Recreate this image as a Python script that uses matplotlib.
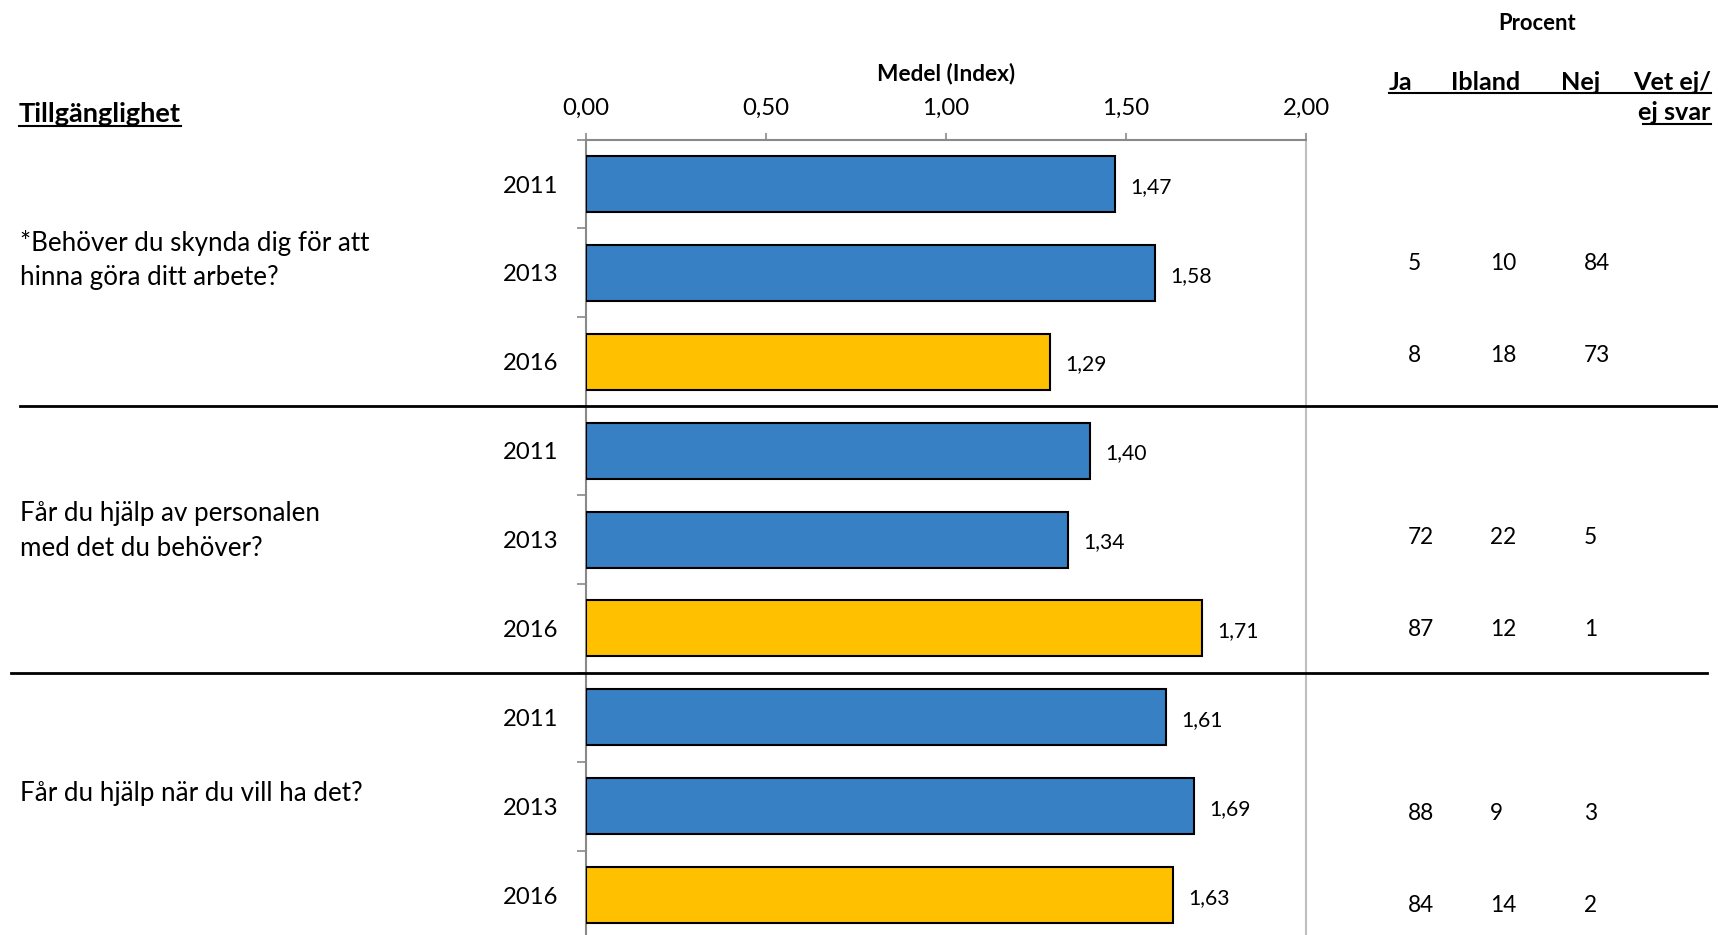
import matplotlib
import matplotlib.pyplot as plt
from matplotlib.lines import Line2D
from matplotlib.ticker import FixedLocator, FuncFormatter

matplotlib.use("Agg")

# --- data ---
questions = [
    "*Behöver du skynda dig för att\nhinna göra ditt arbete?",
    "Får du hjälp av personalen\nmed det du behöver?",
    "Får du hjälp när du vill ha det?",
]
years = ["2011", "2013", "2016"]
medel = [
    [1.47, 1.58, 1.29],
    [1.40, 1.34, 1.71],
    [1.61, 1.69, 1.63],
]
# procent table, rows = (2013, 2016) for each question
ja = [5, 8, 72, 87, 88, 84]
ibland = [10, 18, 22, 12, 9, 14]
nej = [84, 73, 5, 1, 3, 2]

BLUE = "#3780C3"
GOLD = "#FFC000"
GRAY = "#898989"

plt.rcParams["font.family"] = ["Lato", "DejaVu Sans"]

W, H = 1718, 935


def fx(px):
    return px / W


def fy(py):
    return 1 - py / H


def hline(x0, x1, y, lw):
    fig.add_artist(Line2D([fx(x0), fx(x1)], [fy(y), fy(y)], color="black",
                          linewidth=lw, transform=fig.transFigure))


fig = plt.figure(figsize=(W / 100, H / 100), dpi=100)

# axes box in pixels: x 586..1306, y 139.6..939.5
top, bottom = 139.6, 939.5
ax = fig.add_axes([fx(586), fy(bottom), (1306 - 586) / W, (bottom - top) / H])

values, labels, colors = [], [], []
for grp in medel:
    for j, v in enumerate(grp):
        values.append(v)
        labels.append(years[j])
        colors.append(GOLD if years[j] == "2016" else BLUE)

pos = list(range(len(values)))
ax.barh(pos, values, height=0.63, color=colors, edgecolor="black", linewidth=1.5, zorder=3)

for p, v in zip(pos, values):
    ax.annotate(f"{v:.2f}".replace(".", ","), (v, p), xytext=(11, -2),
                textcoords="offset points", va="center", ha="left", fontsize=15.2)

ax.set_xlim(0, 2)
ax.set_ylim(len(values) - 0.5, -0.5)

ax.xaxis.tick_top()
ax.xaxis.set_major_locator(FixedLocator([0, 0.5, 1, 1.5, 2]))
ax.xaxis.set_major_formatter(FuncFormatter(lambda x, _: f"{x:.2f}".replace(".", ",")))
ax.tick_params(axis="x", direction="out", length=5, width=1.2, color=GRAY,
               labelsize=17.3, pad=10)

ax.set_yticks(pos)
ax.set_yticklabels(labels)
ax.tick_params(axis="y", which="major", length=0, labelsize=17.2, pad=20)
ax.set_yticks([p - 0.5 for p in pos] + [len(pos) - 0.5], minor=True)
ax.tick_params(axis="y", which="minor", direction="out", length=6.5, width=1.2, color=GRAY)

ax.spines["bottom"].set_visible(False)
ax.spines["left"].set_color(GRAY)
ax.spines["left"].set_linewidth(1.5)
ax.spines["top"].set_color(GRAY)
ax.spines["top"].set_linewidth(1.5)
ax.spines["right"].set_color("#BFBFBF")
ax.spines["right"].set_linewidth(1.5)

fig.text(fx(946), fy(74), "Medel (Index)", ha="center", va="center",
         fontsize=16.3, fontweight="bold")

# section title
fig.text(fx(19), fy(114), "Tillgänglighet", ha="left", va="center",
         fontsize=19.5, fontweight="bold")
hline(19, 181, 126, 1.5)

# question texts, one line at a time
line_y = [[243, 277], [513, 548], [793]]
for q, ys in zip(questions, line_y):
    for line, y in zip(q.split("\n"), ys):
        fig.text(fx(20), fy(y), line, ha="left", va="center", fontsize=18.7)

# group separators
hline(20, 1718, 406, 2)
hline(11, 1707, 673, 2)

# procent table
fig.text(fx(1537), fy(24), "Procent", ha="center", va="center",
         fontsize=15.8, fontweight="bold")
for txt, x in [("Ja", 1389), ("Ibland", 1451), ("Nej", 1561)]:
    fig.text(fx(x), fy(82), txt, ha="left", va="center", fontsize=18.2, fontweight="bold")
fig.text(fx(1711), fy(82), "Vet ej/", ha="right", va="center", fontsize=18.2, fontweight="bold")
fig.text(fx(1711), fy(113), "ej svar", ha="right", va="center", fontsize=18.2, fontweight="bold")
hline(1389, 1711, 93, 1.5)
hline(1643, 1711, 124, 1.5)

row_y = [264, 355, 538, 630, 813, 905]
for col, x in [(ja, 1408), (ibland, 1490), (nej, 1584)]:
    for v, y in zip(col, row_y):
        fig.text(fx(x), fy(y), str(v), ha="left", va="center", fontsize=16.3)

fig.savefig("out.png", dpi=100)
plt.close("all")
